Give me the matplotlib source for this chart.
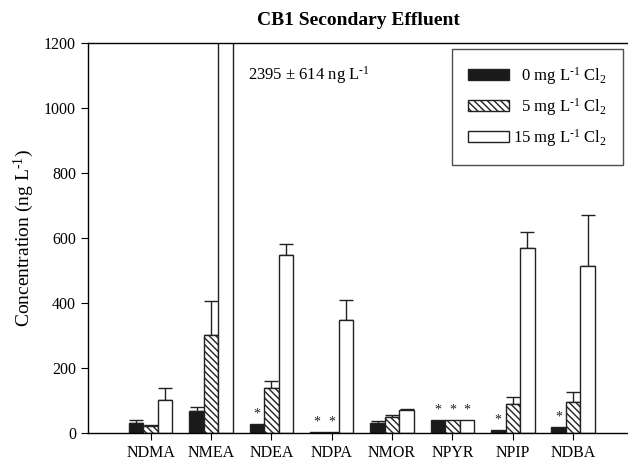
import numpy as np
import matplotlib
matplotlib.use("Agg")
import matplotlib.pyplot as plt

plt.rcParams["font.family"] = ["Liberation Serif", "DejaVu Serif"]
plt.rcParams["mathtext.fontset"] = "custom"
plt.rcParams["mathtext.rm"] = "Liberation Serif"
plt.rcParams["mathtext.it"] = "Liberation Serif:italic"
plt.rcParams["hatch.linewidth"] = 1.0

categories = ["NDMA", "NMEA", "NDEA", "NDPA", "NMOR", "NPYR", "NPIP", "NDBA"]

# mean concentrations (ng/L)
cl0 = [30, 69, 27, 3, 30, 40, 9, 18]
cl5 = [22, 301, 138, 3, 48, 40, 89, 95]
cl15 = [101, 2395, 549, 349, 71, 40, 569, 514]

# upper error (ng/L)
cl0_err = [10, 10, 0, 0, 6, 0, 0, 0]
cl5_err = [3, 105, 22, 0, 6, 0, 21, 30]
cl15_err = [39, 614, 34, 60, 3, 0, 50, 157]

# asterisks (below detection)
cl0_star = [False, False, True, True, False, True, True, True]
cl5_star = [False, False, False, True, False, True, False, False]
cl15_star = [False, False, False, False, False, True, False, False]

sup = r"$^{\mathregular{\text{-}1}}$"
sub2 = r"$_{\mathregular{2}}$"
series_labels = ["\u2007" + "0 mg L" + sup + " Cl" + sub2,
                 "\u2007" + "5 mg L" + sup + " Cl" + sub2,
                 "15 mg L" + sup + " Cl" + sub2]

fig = plt.figure(figsize=(6.28, 4.63), dpi=100)
ax = fig.add_axes([0.140, 0.0648, 0.862, 0.842])

x = np.arange(len(categories))
w = 0.24
series = [(cl0, cl0_err, cl0_star, "#1a1a1a", ""),
          (cl5, cl5_err, cl5_star, "white", "\\\\\\\\\\"),
          (cl15, cl15_err, cl15_star, "white", "")]

for i, (vals, errs, stars, fc, hatch) in enumerate(series):
    pos = x + (i - 1) * w
    ax.bar(pos, vals, width=w, color=fc, edgecolor="#222222", hatch=hatch,
           linewidth=1.0, label=series_labels[i], zorder=2)
    errs_arr = np.array(errs)
    has_err = errs_arr > 0
    ax.errorbar(pos[has_err], np.array(vals)[has_err],
                yerr=[np.zeros(has_err.sum()), errs_arr[has_err]],
                fmt="none", ecolor="#222222", elinewidth=1.0, capsize=5,
                capthick=1.0, zorder=1)
    for p, v, s in zip(pos, vals, stars):
        if s:
            ax.text(p, v + 12, "*", ha="center", va="bottom", fontsize=10,
                    color="#222222")

ax.set_ylim(0, 1200)
ax.set_xlim(-1.04, 7.93)
ax.set_yticks(range(0, 1201, 200))
ax.set_xticks(x)
ax.set_xticklabels(categories, fontsize=11.5)
ax.tick_params(axis="y", labelsize=11.5, direction="out", length=5)
ax.tick_params(axis="x", direction="out", length=5)
ax.spines["right"].set_visible(False)
for s in ["left", "top", "bottom"]:
    ax.spines[s].set_linewidth(1.0)

ax.set_ylabel("Concentration (ng L" + sup + ")", fontsize=14, labelpad=6)
ax.set_title("CB1 Secondary Effluent", fontsize=14, fontweight="bold", pad=13)

ax.text(0.296, 0.918, r"2395 $\pm$ 614 ng L" + sup,
        transform=ax.transAxes, fontsize=12, va="center", ha="left")

leg = ax.legend(loc="upper right", bbox_to_anchor=(0.988, 0.985), fontsize=12,
                frameon=True, fancybox=False, edgecolor="#222222",
                handlelength=2.45, handleheight=0.65, labelspacing=0.55,
                borderpad=0.95, handletextpad=0.25, borderaxespad=0)
leg.get_frame().set_linewidth(1.0)

fig.savefig("out.png", dpi=100)
